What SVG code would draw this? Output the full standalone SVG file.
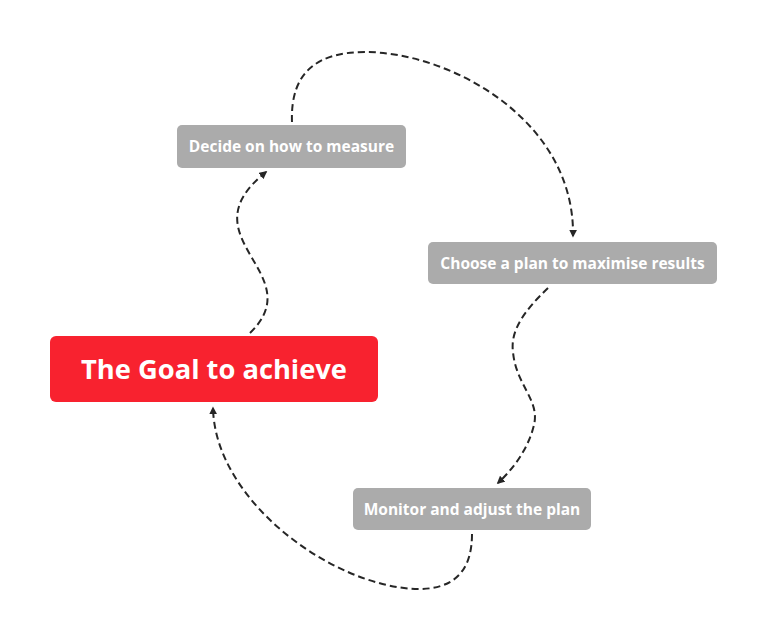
<svg xmlns="http://www.w3.org/2000/svg" width="768" height="642" viewBox="0 0 768 642">
<defs>
<marker id="arr" viewBox="0 0 10 10" refX="8" refY="5" markerWidth="8" markerHeight="8" markerUnits="userSpaceOnUse" orient="auto">
<path d="M0,0 L10,5 L0,10 z" fill="#262626"/>
</marker>
<style>
.con{fill:none;stroke:#262626;stroke-width:2;stroke-dasharray:7 4;marker-end:url(#arr)}
.sub rect{fill:#ABABAB}
.sub text{fill:#fff;font-family:"Open Sans","Lato",sans-serif;font-weight:700;font-size:15.5px;text-anchor:middle}
.main rect{fill:#F8222F}
.main text{fill:#fff;font-family:"Open Sans","Lato",sans-serif;font-weight:700;font-size:27.3px;text-anchor:middle}
</style>
</defs>
<rect width="768" height="642" fill="#fff"/>
<g id="connectors">
<path class="con" d="M250,333 C312,273 183,238 266,172"/>
<path class="con" d="M292,122 C290,70 320,52 365,52 C450,52 575,120 573,236"/>
<path class="con" d="M548,288 C525,310 510,330 513,352 C516,385 540,400 534,425 C528,450 512,470 498,483"/>
<path class="con" d="M472,534 C472,575 450,590 415,589 C330,585 215,500 213,408"/>
</g>
<g id="goal" class="main">
<rect x="50" y="336" width="328" height="66" rx="6"/>
<text x="214" y="379">The Goal to achieve</text>
</g>
<g id="decide" class="sub">
<rect x="177" y="125" width="229" height="43" rx="5"/>
<text x="291.5" y="152">Decide on how to measure</text>
</g>
<g id="choose" class="sub">
<rect x="428" y="242" width="289" height="42" rx="5"/>
<text x="572.5" y="269">Choose a plan to maximise results</text>
</g>
<g id="monitor" class="sub">
<rect x="353" y="488" width="238" height="42" rx="5"/>
<text x="472" y="515">Monitor and adjust the plan</text>
</g>
</svg>
